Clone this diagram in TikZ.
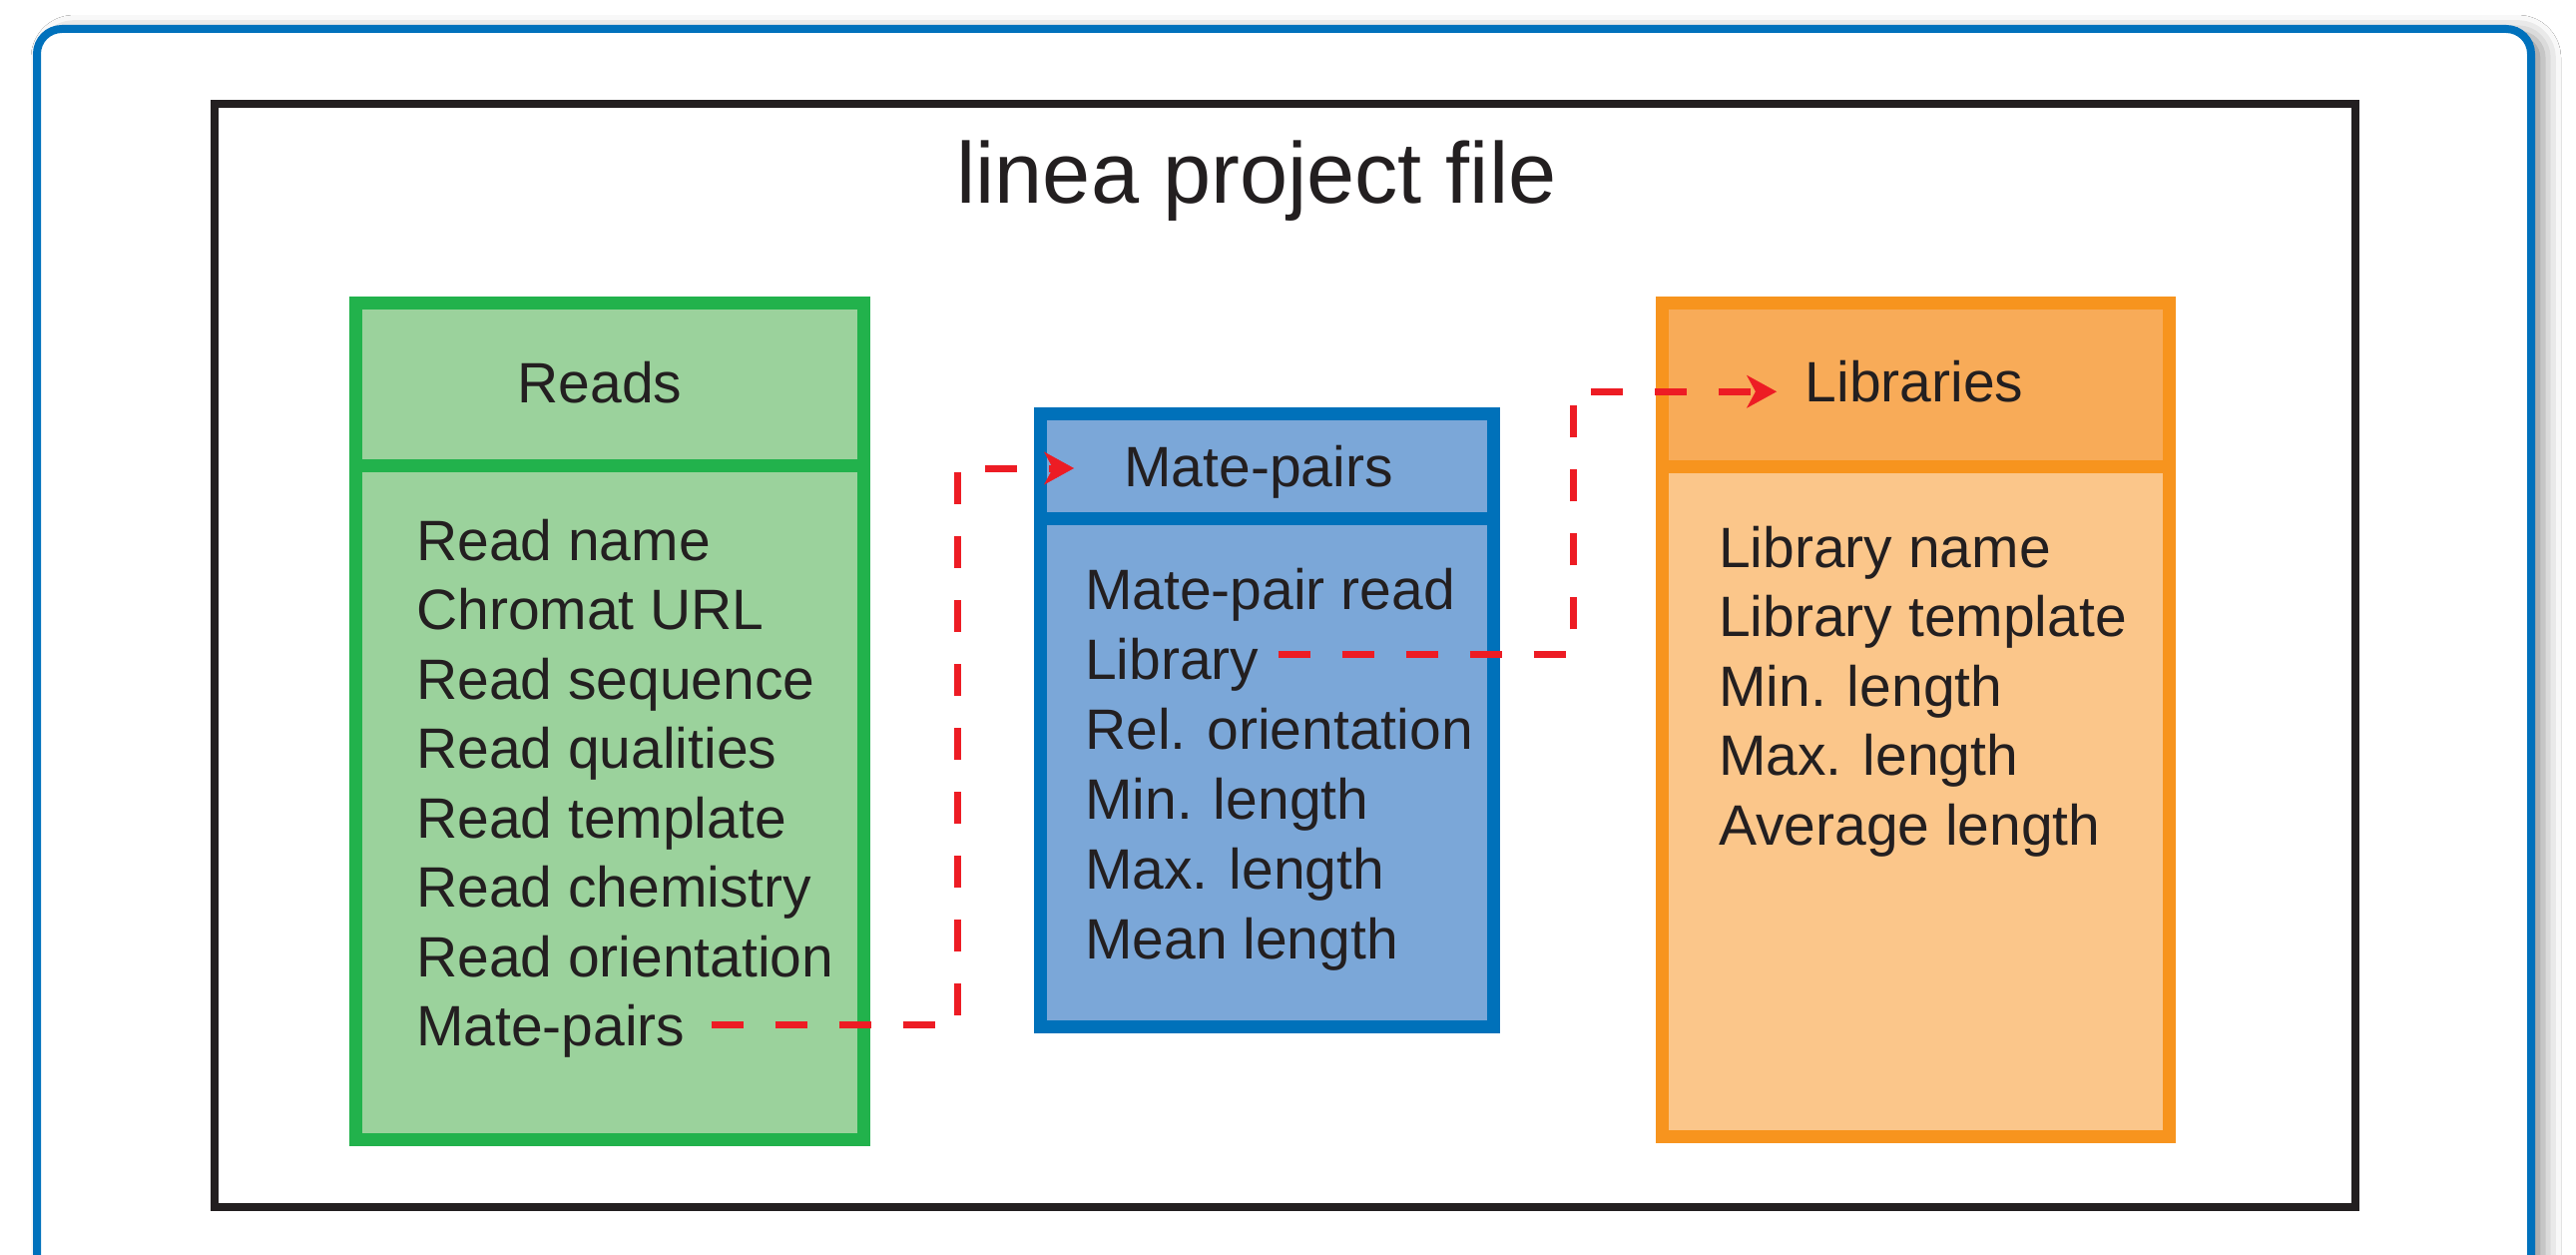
\documentclass[tikz,border=0pt]{standalone}
\usepackage{fontspec}
\setmainfont{Liberation Sans}
\usetikzlibrary{arrows.meta,calc,shadows.blur}

\definecolor{frameblue}{HTML}{0071BC}
\definecolor{ink}{HTML}{231F20}
\definecolor{grline}{HTML}{22B24C}
\definecolor{grfill}{HTML}{9BD29C}
\definecolor{blline}{HTML}{0071BA}
\definecolor{blfill}{HTML}{7BA7D8}
\definecolor{orline}{HTML}{F7941E}
\definecolor{orhead}{HTML}{F8AB58}
\definecolor{orbody}{HTML}{FBC68A}
\definecolor{linkred}{HTML}{ED1C24}

\begin{document}
\begin{tikzpicture}[x=1pt,y=-1pt,
  panel/.style={draw, line width=13pt, inner sep=0pt, outer sep=0pt},
  field/.style={anchor=base west, inner sep=0pt, text=ink, font=\fontsize{57}{68}\selectfont},
  headtext/.style={anchor=base, inner sep=0pt, text=ink, font=\fontsize{57}{68}\selectfont},
  link/.style={draw=linkred, line width=7pt, dash pattern=on 32pt off 32pt,
    -{Stealth[length=30pt,width=33pt,inset=9pt,line width=0.5pt]}}]

% page area
\useasboundingbox (0,0) rectangle (2581,1257);
\clip (0,0) rectangle (2581,1257);
\fill[white] (0,0) rectangle (2581,1257);

% outer rounded frame with soft shadow
\path[draw=frameblue, line width=8pt, fill=white, rounded corners=25pt,
  blur shadow={shadow xshift=12pt, shadow yshift=-4pt, shadow blur radius=18pt, shadow opacity=45}]
  (37,29) rectangle (2536,1330);

% project file container
\node[draw=ink, line width=8pt, inner sep=0pt, minimum width=2145pt, minimum height=1105pt]
  (project) at (1287.5,656.5) {};
\node[anchor=base, inner sep=0pt, text=ink, font=\fontsize{86.5}{100}\selectfont]
  (title) at (1259,204) {linea project file};

% Reads table
\node[panel, draw=grline, fill=grfill, minimum width=509pt, minimum height=675pt] (readsBody) at (611,804) {};
\node[panel, draw=grline, fill=grfill, minimum width=509pt, minimum height=163pt] (readsHead) at (611,385) {};
\node[headtext] (readsTitle) at (601,403) {Reads};
\foreach \t [count=\i] in {Read name, Chromat URL, Read sequence, Read qualities,
    Read template, Read chemistry, Read orientation, Mate-pairs}
  \node[field] (rf\i) at (417,{561+(\i-1)*69.5}) {\t};

% Mate-pairs table
\node[panel, draw=blline, fill=blfill, minimum width=454pt, minimum height=509pt] (mpBody) at (1269.5,774) {};
\node[panel, draw=blline, fill=blfill, minimum width=454pt, minimum height=105pt] (mpHead) at (1269.5,467) {};
\node[headtext] (mpTitle) at (1261,487) {Mate-pairs};
\foreach \t [count=\i] in {Mate-pair read, Library, Rel. orientation, Min. length,
    Max. length, Mean length}
  \node[field] (mf\i) at (1087,{610+(\i-1)*70}) {\t};

% Libraries table
\node[panel, draw=orline, fill=orbody, minimum width=508pt, minimum height=671.5pt] (libBody) at (1919.5,802.75) {};
\node[panel, draw=orline, fill=orhead, minimum width=508pt, minimum height=163.5pt] (libHead) at (1919.5,385.25) {};
\node[headtext] (libTitle) at (1918,402) {Libraries};
\foreach \t [count=\i] in {Library name, Library template, Min. length, Max. length,
    Average length}
  \node[field] (lf\i) at (1722,{568+(\i-1)*69.5}) {\t};

% references between tables
\coordinate (mpOut) at ($(rf8.base east)+(26,-21)$);
\draw[link] (mpOut) -| ($(mpHead.west)+(-83.5,2)$) -- ($(mpHead.west)+(33.5,2)$);

\coordinate (libOut) at ($(mf2.base east)+(19,-25)$);
\draw[link] (libOut) -| ($(libHead.west)+(-89.5,7)$) -- ($(libHead.west)+(114.5,7)$);
\end{tikzpicture}
\end{document}
